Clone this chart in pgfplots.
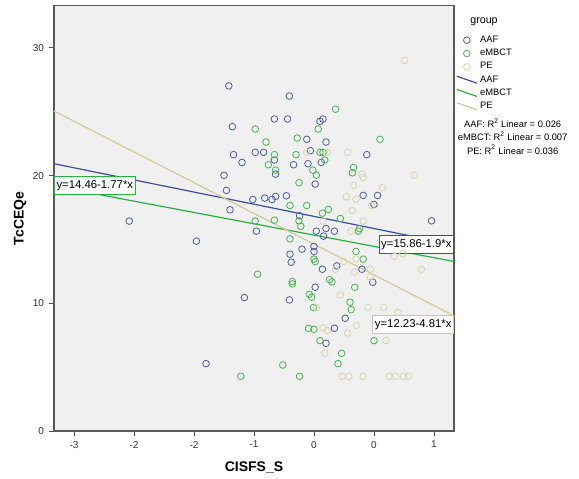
\documentclass[border=0pt]{standalone}
\usepackage{fontspec}
\setmainfont{Liberation Sans}
\usepackage{pgfplots}
\pgfplotsset{compat=1.18}

\definecolor{bgc}{RGB}{240,240,240}
\definecolor{aafpt}{RGB}{78,92,160}
\definecolor{mbpt}{RGB}{70,180,80}
\definecolor{pept}{RGB}{218,212,174}
\definecolor{aafln}{RGB}{60,78,160}
\definecolor{mbln}{RGB}{40,176,64}
\definecolor{peln}{RGB}{210,200,152}

\begin{document}
\begin{tikzpicture}
\begin{axis}[
  scale only axis, width=300pt, height=319pt,
  xmin=-2.667, xmax=0.667, ymin=0, ymax=33.3,
  xtick={-2.5,-2,-1.5,-1,-0.5,0,0.5},
  xticklabels={-3,-2,-2,-1,0,0,1},
  ytick={0,10,20,30},
  xtick pos=bottom, ytick pos=left,
  tick align=outside, major tick length=4pt,
  tick style={black!70, line width=0.6pt},
  axis line style={black!65, line width=0.9pt},
  axis background/.style={fill=bgc},
  /pgf/number format/assume math mode=true,
  tick label style={font=\fontsize{7.5}{9}\selectfont, black!80},
  xlabel={\textbf{CISFS\_S}}, ylabel={\textbf{TcCEQe}},
  label style={font=\fontsize{10.5}{12}\selectfont},
  xlabel style={at={(axis description cs:0.5,0)}, anchor=center, yshift=-27.5pt},
  ylabel style={at={([xshift=-25.5pt]axis description cs:0,0.5)}, anchor=center},
  clip=false,
  legend style={at={(1,1)}, anchor=north west, xshift=1.5pt, yshift=-20.5pt,
    draw=none, fill=none, font=\fontsize{7}{8}\selectfont,
    row sep=-0.4pt, inner sep=0pt, cells={anchor=west}},
  scatterst/.style={only marks, mark=o, mark size=2.5pt, line width=0.6pt,
    legend image code/.code={\draw[##1] plot coordinates {(7.5pt,0pt)}; \path (0pt,0pt) (15pt,0pt);}},
  fitln/.style={no marks, line width=0.9pt,
    legend image code/.code={\draw[##1] (0pt,2.8pt) -- (15pt,-2.4pt);}},
]
\addplot[scatterst, color=aafpt] coordinates {
(-1.21,27.02) (-0.705,26.23) (-1.18,23.83) (-0.83,24.43) (-0.72,24.43)
(-0.45,24.25) (-0.425,24.43) (-0.56,22.84) (-0.40,22.63) (-1.17,21.64)
(-0.99,21.82) (-0.92,21.82) (-1.10,21.03) (-0.83,21.22) (-0.67,20.85)
(-0.55,20.93) (-0.53,21.95) (-0.44,21.03) (-0.82,20.12) (-1.25,20.02)
(-1.23,18.84) (-0.49,19.34) (-0.06,21.64) (-1.01,18.13) (-0.91,18.24)
(-0.85,18.13) (-0.82,18.37) (-0.73,18.42) (-1.20,17.32) (-0.09,18.45)
(0.03,18.45) (0.00,17.74) (-2.04,16.44) (-1.48,14.87) (-0.98,15.65)
(-0.62,16.85) (-0.48,15.65) (-0.40,15.86) (-0.42,15.26) (-0.33,15.65)
(0.48,16.46) (-0.60,14.24) (-0.50,14.45) (-0.50,14.06) (-0.70,13.85)
(-0.69,13.22) (-0.31,12.93) (-0.10,12.67) (-0.43,12.67) (-0.01,11.65)
(-0.49,11.26) (-1.08,10.45) (-0.705,10.27) (-0.24,8.83) (-0.33,8.05)
(-0.40,6.87) (-1.40,5.28)
};
\addlegendentry{AAF}

\addplot[scatterst, color=mbpt] coordinates {
(-0.32,25.2) (-0.99,23.65) (-0.64,22.94) (0.05,22.84) (-0.90,22.63)
(-0.465,23.65) (-0.83,21.64) (-0.65,21.64) (-0.45,21.82) (-0.425,21.82)
(-0.88,20.85) (-0.82,20.43) (-0.41,21.22) (-0.51,20.43) (-0.48,20.04)
(-0.17,20.64) (-0.18,20.22) (-0.625,19.44) (-0.70,17.66) (-0.56,17.66)
(-0.43,17.06) (-0.38,17.35) (-0.83,16.51) (-0.99,16.44) (-0.625,16.46)
(-0.61,16.04) (-0.28,16.64) (-0.12,15.86) (-0.13,15.65) (-0.70,15.05)
(-0.15,14.06) (-0.09,13.46) (-0.50,13.46) (-0.49,13.27) (-0.97,12.28)
(-0.68,11.71) (-0.68,11.52) (-0.37,11.86) (-0.35,11.68) (-0.16,11.26)
(-0.54,10.71) (-0.52,10.48) (-0.20,10.09) (-0.19,9.51) (-0.505,9.67)
(-0.545,8.05) (-0.50,7.97) (0.00,7.08) (-0.45,7.08) (-0.27,6.09)
(-0.30,5.28) (-0.76,5.17) (-1.11,4.29) (-0.62,4.29)
};
\addlegendentry{eMBCT}

\addplot[scatterst, color=pept] coordinates {
(0.256,29.03) (-0.56,21.82) (-0.39,21.82) (-0.22,21.82) (0.336,20.04)
(-0.10,20.12) (-0.09,19.86) (-0.17,19.23) (0.07,19.05) (-0.23,18.34)
(-0.15,18.16) (-0.02,17.66) (-0.18,17.25) (-0.09,16.44) (-0.425,16.44)
(-0.19,15.65) (0.17,13.67) (0.24,13.88) (-0.25,13.27) (-0.15,13.46)
(-0.16,12.46) (-0.03,12.67) (0.394,12.67) (-0.32,12.67) (-0.03,12.07)
(-0.28,10.66) (-0.48,9.67) (-0.05,9.67) (0.08,9.67) (0.20,9.28)
(-0.145,8.28) (-0.425,8.07) (-0.39,7.87) (-0.22,7.68) (0.10,7.08)
(-0.41,6.09) (-0.265,4.29) (-0.21,4.29) (-0.09,4.29) (0.126,4.29)
(0.18,4.29) (0.246,4.29) (0.286,4.29)
};
\addlegendentry{PE}

% fit lines, ends at xmin / xmax
\addplot[fitln, color=aafln] coordinates {(-2.667,20.93) (0.667,14.59)};
\addlegendentry{AAF}
\addplot[fitln, color=mbln] coordinates {(-2.667,19.18) (0.667,13.28)};
\addlegendentry{eMBCT}
\addplot[fitln, color=peln] coordinates {(-2.667,25.06) (0.667,9.02)};
\addlegendentry{PE}

% equation boxes
\node[anchor=west, draw=mbln, fill=white, line width=0.8pt, inner xsep=1.5pt, inner ysep=3pt,
  font=\fontsize{8.5}{9}\selectfont] at (axis cs:-2.667,19.2) {y=14.46-1.77*x};
\node[anchor=east, draw=aafln, fill=white, line width=0.8pt, inner xsep=1.5pt, inner ysep=3pt,
  font=\fontsize{8.5}{9}\selectfont] at (axis cs:0.667,14.6) {y=15.86-1.9*x};
\node[anchor=east, draw=peln, fill=white, line width=0.8pt, inner xsep=1.5pt, inner ysep=3pt,
  font=\fontsize{8.5}{9}\selectfont] at (axis cs:0.667,8.34) {y=12.23-4.81*x};

% legend title and R squared note
\node[font=\fontsize{8}{9}\selectfont] at ([xshift=22.5pt,yshift=-11.8pt]rel axis cs:1,1) {group};
\node[align=center, font=\fontsize{7}{10}\selectfont] at ([xshift=44pt,yshift=-98pt]rel axis cs:1,1)
  {AAF: R\textsuperscript{2} Linear = 0.026\\eMBCT: R\textsuperscript{2} Linear = 0.007\\PE: R\textsuperscript{2} Linear = 0.036};

% page extent
\path ([xshift=-40.5pt,yshift=-35.25pt]rel axis cs:0,0) -- ([xshift=93.75pt,yshift=4.3pt]rel axis cs:1,1);
\end{axis}
\end{tikzpicture}
\end{document}
